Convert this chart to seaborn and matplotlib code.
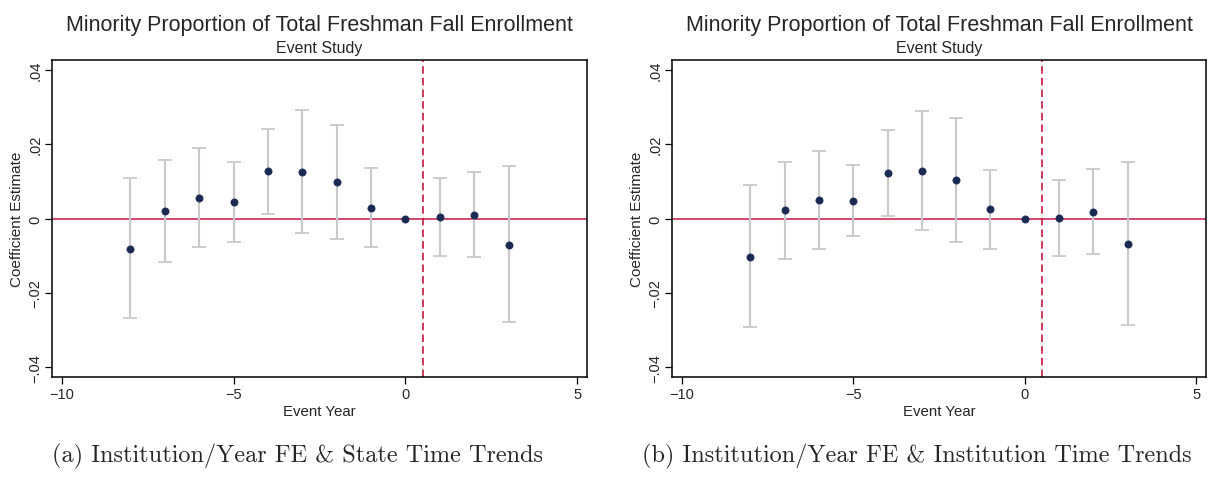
import numpy as np
import pandas as pd
import matplotlib
matplotlib.use("Agg")
import matplotlib.pyplot as plt
import seaborn as sns

# ---- data ----
event_years = [-8, -7, -6, -5, -4, -3, -2, -1, 0, 1, 2, 3]

coef_a = [-0.0082, 0.0019, 0.0056, 0.0044, 0.0127, 0.0126, 0.0098, 0.0029, 0.0, 0.0004, 0.0010, -0.0071]
hi_a = [0.0109, 0.0156, 0.0190, 0.0152, 0.0241, 0.0291, 0.0251, 0.0135, np.nan, 0.0109, 0.0125, 0.0140]
lo_a = [-0.0267, -0.0118, -0.0077, -0.0063, 0.0013, -0.0039, -0.0056, -0.0076, np.nan, -0.0100, -0.0104, -0.0277]

coef_b = [-0.0103, 0.0022, 0.0049, 0.0048, 0.0121, 0.0128, 0.0104, 0.0025, 0.0, 0.0001, 0.0018, -0.0069]
hi_b = [0.0091, 0.0153, 0.0182, 0.0144, 0.0237, 0.0288, 0.0271, 0.0131, np.nan, 0.0103, 0.0134, 0.0153]
lo_b = [-0.0292, -0.0110, -0.0083, -0.0048, 0.0006, -0.0031, -0.0063, -0.0082, np.nan, -0.0101, -0.0096, -0.0287]

title = "Minority Proportion of Total Freshman Fall Enrollment"
subtitle = "Event Study"
xlabel = "Event Year"
ylabel = "Coefficient Estimate"
xticks = [-10, -5, 0, 5]
xtick_labels = ["\u221210", "\u22125", "0", "5"]
yticks = [-0.04, -0.02, 0.0, 0.02, 0.04]
ytick_labels = ["\u2212.04", "\u2212.02", "0", ".02", ".04"]
captions = ["(a) Institution/Year FE & State Time Trends",
            "(b) Institution/Year FE & Institution Time Trends"]
treat_line = 0.5

sns.set_theme(style="white")
plt.rcParams["font.family"] = ["Liberation Sans", "DejaVu Sans"]

W, H = 1208, 481
fig = plt.figure(figsize=(W / 100, H / 100), dpi=100)

panels = [
    (coef_a, lo_a, hi_a, 52, 587, 297),
    (coef_b, lo_b, hi_b, 672, 1206, 917),
]
top_px, bot_px = 61, 378

navy = "#1b2a52"
ci_col = "#c9c9c9"
hline_col = "#d14a6c"
vline_col = "#c8163f"

for i, (coef, lo, hi, l_px, r_px, cap_x) in enumerate(panels):
    ax = fig.add_axes([l_px / W, 1 - bot_px / H, (r_px - l_px) / W, (bot_px - top_px) / H])
    df = pd.DataFrame({"year": event_years, "coef": coef, "lo": lo, "hi": hi})
    ci = df.dropna()
    ax.axhline(0, color=hline_col, lw=1.4, zorder=1)
    ax.axvline(treat_line, color=vline_col, lw=1.2, ls=(0, (4.5, 2.5)), zorder=1)
    ax.errorbar(ci["year"], (ci["lo"] + ci["hi"]) / 2, yerr=(ci["hi"] - ci["lo"]) / 2,
                fmt="none", ecolor=ci_col, elinewidth=1.5, capsize=5, capthick=1.3, zorder=2)
    sns.scatterplot(data=df, x="year", y="coef", ax=ax, color=navy, s=27,
                    edgecolor=navy, linewidth=0.5, zorder=3, legend=False)
    ax.set_xlim(-10.28, 5.28)
    ax.set_ylim(-0.0426, 0.0426)
    ax.set_xticks(xticks)
    ax.set_xticklabels(xtick_labels, fontsize=10.5)
    ax.set_yticks(yticks)
    ax.set_yticklabels(ytick_labels, fontsize=10.5, rotation=90, va="center")
    ax.tick_params(axis="both", length=5, width=0.9, color="black", direction="out",
                   bottom=True, left=True, pad=2)
    for s in ax.spines.values():
        s.set_color("black")
        s.set_linewidth(1.1)
    ax.set_xlabel(xlabel, fontsize=10.8, labelpad=2)
    ax.set_ylabel(ylabel, fontsize=11, labelpad=3)
    cx = (l_px + r_px) / 2 / W
    fig.text(cx, 1 - 31 / H, title, ha="center", va="baseline", fontsize=15.5)
    fig.text(cx, 1 - 53 / H, subtitle, ha="center", va="baseline", fontsize=11.5)
    fig.text(cap_x / W, 1 - 456 / H, captions[i], ha="center", va="center", fontsize=17.5,
             family=["cmr10", "DejaVu Serif"])

fig.savefig("out.png", dpi=100)
